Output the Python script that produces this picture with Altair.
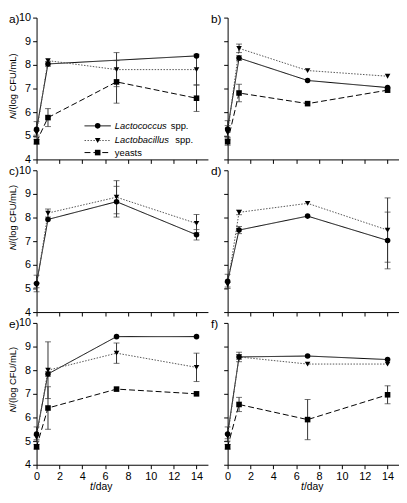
import altair as alt
import pandas as pd

days = [0, 1, 7, 14]
panel_ids = ["a", "b", "c", "d", "e", "f"]
series_names = ["Lactococcus", "Lactobacillus", "yeasts"]

lactococcus_mean = {
    "a": [5.27, 8.04, None, 8.38],
    "b": [5.29, 8.29, 7.34, 7.04],
    "c": [5.21, 7.92, 8.67, 7.27],
    "d": [5.30, 7.47, 8.06, 7.03],
    "e": [5.30, 7.84, 9.42, 9.42],
    "f": [5.30, 8.56, 8.60, 8.45],
}
lactococcus_sd = {
    "a": [0.33, 0.10, None, 0.08],
    "b": [0.35, 0.10, 0.05, 0.05],
    "c": [0.35, 0.08, 0.65, 0.22],
    "d": [0.30, 0.15, 0.05, 1.20],
    "e": [0.30, 0.10, 0.05, 0.05],
    "f": [0.30, 0.20, 0.07, 0.07],
}
lactobacillus_mean = {
    "a": [5.13, 8.18, 7.80, 7.80],
    "b": [5.13, 8.70, 7.76, 7.52],
    "c": [5.13, 8.19, 8.86, 7.75],
    "d": [5.16, 8.22, 8.60, 7.47],
    "e": [5.16, 8.00, 8.72, 8.12],
    "f": [5.20, 8.56, 8.26, 8.26],
}
lactobacillus_sd = {
    "a": [0.10, 0.07, 0.72, 0.65],
    "b": [0.30, 0.18, 0.05, 0.05],
    "c": [0.10, 0.17, 0.70, 0.38],
    "d": [0.10, 0.10, 0.08, 1.36],
    "e": [0.10, 1.20, 0.43, 0.60],
    "f": [0.10, 0.10, 0.05, 0.05],
}
yeasts_mean = {
    "a": [4.75, 5.77, 7.28, 6.59],
    "b": [4.75, 6.81, 6.36, 6.93],
    "e": [4.76, 6.40, 7.20, 7.00],
    "f": [4.76, 6.55, 5.91, 6.96],
}
yeasts_sd = {
    "a": [0.10, 0.38, 0.90, 0.56],
    "b": [0.15, 0.37, 0.05, 0.05],
    "e": [0.10, 0.90, 0.05, 0.05],
    "f": [0.10, 0.30, 0.85, 0.38],
}

x_ticks = [0, 2, 4, 6, 8, 10, 12, 14]
y_ticks = [4, 5, 6, 7, 8, 9, 10]

# legend (panel a), in data units of panel a
legend_y = [5.42, 4.80, 4.29]
legend_words = ["Lactococcus", "Lactobacillus", "yeasts"]
legend_italic = [True, True, False]
legend_spp_x = [11.75, 12.15]
legend_line = [4.2, 6.5]
legend_marker_x = 5.35
legend_text_x = 6.85

# axis title anchors (data units)
ytitle_anchor = {"a": 6.0, "c": 6.9, "e": 6.5}
xtitle_anchor = {"e": 4.94, "f": 6.68}

rows = []
for sname, means, sds in [
    ("Lactococcus", lactococcus_mean, lactococcus_sd),
    ("Lactobacillus", lactobacillus_mean, lactobacillus_sd),
    ("yeasts", yeasts_mean, yeasts_sd),
]:
    for pid, vals in means.items():
        for dday, m, s in zip(days, vals, sds[pid]):
            if m is None:
                continue
            rows.append({"panel": pid, "series": sname, "day": dday, "mean": m,
                         "sd": s, "lo": m - s, "hi": m + s})
df = pd.DataFrame(rows)

W, H = 174, 144
FONT = "Liberation Sans"

dash_scale = alt.Scale(domain=series_names, range=[[1, 0], [1.5, 1.5], [6, 3]])
color_scale = alt.Scale(domain=series_names, range=["#000000", "#555555", "#000000"])
shape_scale = alt.Scale(domain=series_names, range=["circle", "triangle-down", "square"])


def make_panel(pid, left, bottom):
    d = df[df.panel == pid]
    xs = alt.Scale(domain=[0, 15], nice=False)
    ys = alt.Scale(domain=[4, 10], nice=False, zero=False)
    xax = alt.Axis(values=x_ticks, labels=bottom, title=None, grid=False,
                   labelOverlap=False, labelFlush=False, tickCount=8)
    yax = alt.Axis(values=y_ticks, labels=left, title=None, grid=False,
                   labelOverlap=False, labelFlush=False, tickCount=7)
    X = alt.X("day:Q", scale=xs, axis=xax)
    Y = alt.Y("mean:Q", scale=ys, axis=yax)
    base = alt.Chart(d)
    lines = base.mark_line(strokeWidth=1).encode(
        X, Y,
        color=alt.Color("series:N", scale=color_scale, legend=None),
        strokeDash=alt.StrokeDash("series:N", scale=dash_scale, legend=None),
        order="day:Q",
    )
    eb = base.transform_filter("datum.sd > 0.09")
    ebar = eb.mark_rule(color="#333333", strokeWidth=1).encode(
        x=alt.X("day:Q", axis=xax), y=alt.Y("lo:Q", axis=yax), y2="hi:Q")
    caps = eb.transform_fold(["lo", "hi"], as_=["k", "v"]).mark_tick(
        orient="horizontal", size=6, thickness=1, color="#333333"
    ).encode(x=alt.X("day:Q", axis=xax), y=alt.Y("v:Q", axis=yax))
    pts = base.mark_point(filled=True, opacity=1, size=32, color="black").encode(
        X, Y, shape=alt.Shape("series:N", scale=shape_scale, legend=None))
    layers = [lines, ebar, caps, pts]

    lab = alt.Chart(pd.DataFrame({"t": [pid + ")"]})).mark_text(
        align="left", baseline="middle", fontSize=12, font=FONT, color="black"
    ).encode(x=alt.value(-28 if left else -17), y=alt.value(1), text="t:N")
    layers.append(lab)

    if left:
        yt = pd.DataFrame({"v": [ytitle_anchor[pid]]})
        n = alt.Chart(yt).mark_text(angle=270, align="right", baseline="middle",
                                    fontSize=9.5, font=FONT, fontStyle="italic",
                                    color="black", text="N").encode(
            x=alt.value(-23.5), y=alt.Y("v:Q", axis=yax))
        rest = alt.Chart(yt).mark_text(angle=270, align="left", baseline="middle",
                                       fontSize=9.5, font=FONT, color="black",
                                       text="/(log CFU/mL)").encode(
            x=alt.value(-23.5), y=alt.Y("v:Q", axis=yax))
        layers += [n, rest]
    if bottom:
        xt = pd.DataFrame({"dd": [xtitle_anchor[pid]]})
        t = alt.Chart(xt).mark_text(align="right", baseline="middle", fontSize=10.5,
                                    font=FONT, fontStyle="italic", color="black",
                                    text="t").encode(x=alt.X("dd:Q", axis=xax), y=alt.value(H + 23))
        rest = alt.Chart(xt).mark_text(align="left", baseline="middle", fontSize=10.5,
                                       font=FONT, color="black",
                                       text="/day").encode(x=alt.X("dd:Q", axis=xax), y=alt.value(H + 23))
        layers += [t, rest]
    if pid == "a":
        lg = pd.DataFrame({
            "series": series_names, "y": legend_y,
            "x1": [legend_line[0]] * 3, "x2": [legend_line[1]] * 3,
            "xm": [legend_marker_x] * 3, "xt": [legend_text_x] * 3,
            "word": legend_words, "it": legend_italic,
        })
        LX = lambda f: alt.X(f, axis=xax)
        LY = alt.Y("y:Q", axis=yax)
        lgl = alt.Chart(lg).mark_rule(strokeWidth=1).encode(
            x=LX("x1:Q"), x2="x2:Q", y=LY,
            color=alt.Color("series:N", scale=color_scale, legend=None),
            strokeDash=alt.StrokeDash("series:N", scale=dash_scale, legend=None))
        lgp = alt.Chart(lg).mark_point(filled=True, opacity=1, size=32, color="black").encode(
            x=LX("xm:Q"), y=LY, shape=alt.Shape("series:N", scale=shape_scale, legend=None))
        lgt_i = alt.Chart(lg).transform_filter("datum.it").mark_text(
            align="left", baseline="middle", fontSize=9.5, font=FONT,
            fontStyle="italic", color="black").encode(x=LX("xt:Q"), y=LY, text="word:N")
        lgt_n = alt.Chart(lg).transform_filter("!datum.it").mark_text(
            align="left", baseline="middle", fontSize=9.5, font=FONT,
            color="black").encode(x=LX("xt:Q"), y=LY, text="word:N")
        spp = pd.DataFrame({"x": legend_spp_x, "y": legend_y[:2], "t": ["spp.", "spp."]})
        lgs = alt.Chart(spp).mark_text(align="left", baseline="middle", fontSize=9.5,
                                       font=FONT, color="black").encode(
            x=LX("x:Q"), y=LY, text="t:N")
        layers += [lgl, lgp, lgt_i, lgt_n, lgs]

    return alt.layer(*layers).properties(width=W, height=H)


panels = [
    make_panel("a", True, False), make_panel("b", False, False),
    make_panel("c", True, False), make_panel("d", False, False),
    make_panel("e", True, True), make_panel("f", False, True),
]

chart = alt.concat(
    *panels, columns=2, spacing=alt.RowColnumber(row=11, column=20), bounds="flush"
).properties(
    padding={"left": 0, "top": 0, "right": 0, "bottom": 0}
).configure_view(stroke=None).configure_axis(
    domainColor="black", tickColor="black", tickSize=4, tickWidth=1, domainWidth=1,
    labelFont=FONT, labelFontSize=11, labelColor="black", labelPadding=2, grid=False,
    labelOverlap=False,
)

chart.save("out.html", embed_options={"renderer": "svg", "actions": False})
